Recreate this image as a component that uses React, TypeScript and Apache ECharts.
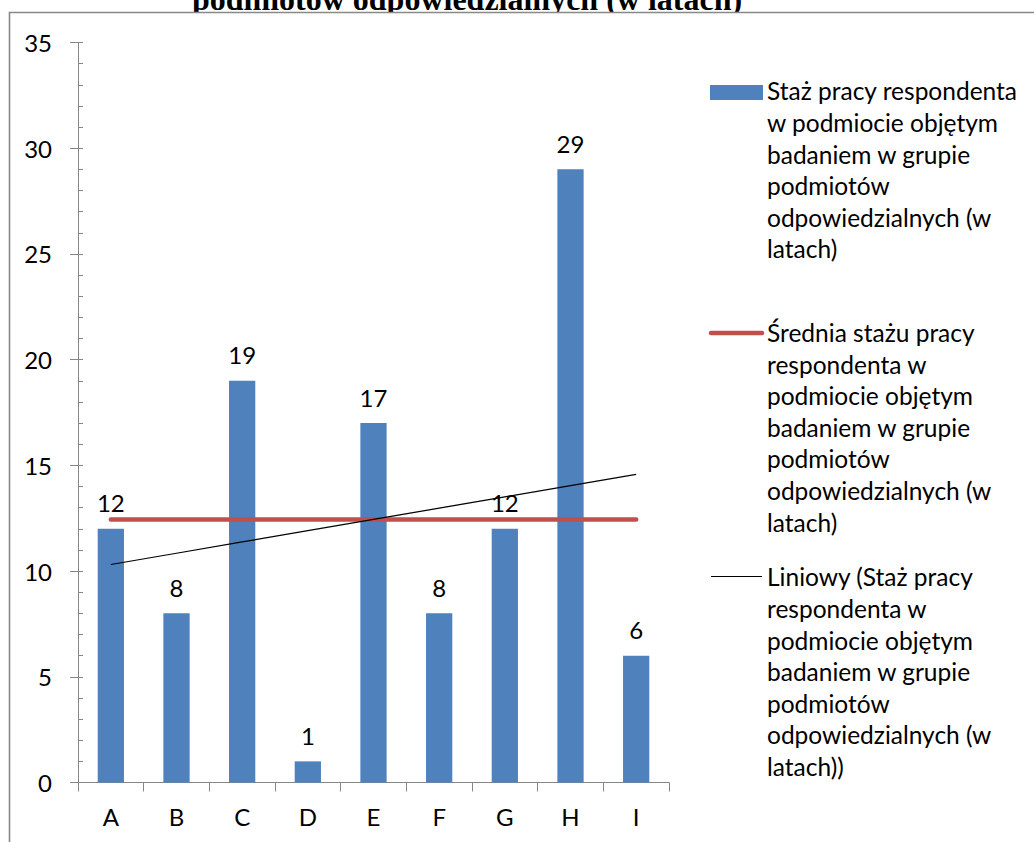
import { useEffect, useRef } from "react";
import * as echarts from "echarts";

// Respondents A–I and their tenure (years) in the surveyed entity
const categories = ["A", "B", "C", "D", "E", "F", "G", "H", "I"];
const tenureYears = [12, 8, 19, 1, 17, 8, 12, 29, 6];

// Value axis range
const yMin = 0;
const yMax = 35;
const yStep = 5;

const titleText = "podmiotów odpowiedzialnych (w latach)";

const legendBarLines = [
  "Staż pracy respondenta",
  "w podmiocie objętym",
  "badaniem w grupie",
  "podmiotów",
  "odpowiedzialnych (w",
  "latach)",
];
const legendMeanLines = [
  "Średnia stażu pracy",
  "respondenta w",
  "podmiocie objętym",
  "badaniem w grupie",
  "podmiotów",
  "odpowiedzialnych (w",
  "latach)",
];
const legendTrendLines = [
  "Liniowy (Staż pracy",
  "respondenta w",
  "podmiocie objętym",
  "badaniem w grupie",
  "podmiotów",
  "odpowiedzialnych (w",
  "latach))",
];

const BAR_COLOR = "#4F81BD";
const MEAN_COLOR = "#C0504D";
const TREND_COLOR = "#000000";
const AXIS_COLOR = "#868686";
const FONT = "Lato, 'Noto Sans', sans-serif";

// Mean of all respondents, drawn as a flat line across the categories
function meanOf(values: number[]): number {
  return values.reduce((s, v) => s + v, 0) / values.length;
}

// Least-squares linear trend over category positions 1..n
function linearTrend(values: number[]): number[] {
  const n = values.length;
  const xs = values.map((_, i) => i + 1);
  const mx = xs.reduce((s, v) => s + v, 0) / n;
  const my = meanOf(values);
  let num = 0;
  let den = 0;
  xs.forEach((x, i) => {
    num += (x - mx) * (values[i] - my);
    den += (x - mx) * (x - mx);
  });
  const slope = num / den;
  const intercept = my - slope * mx;
  return xs.map((x) => intercept + slope * x);
}

export default function App() {
  const ref = useRef<HTMLDivElement>(null);

  useEffect(() => {
    if (!ref.current) return;
    const chart = echarts.init(ref.current, undefined, { renderer: "svg" });

    const mean = meanOf(tenureYears);
    const meanSeries = tenureYears.map(() => mean);
    const trendSeries = linearTrend(tenureYears);

    const lineH = 31.6;
    const textX = 767;
    const legendText = (lines: string[], firstCenterY: number) => ({
      type: "text",
      x: textX,
      y: firstCenterY - lineH / 2,
      z: 20,
      style: {
        text: lines.join("\n"),
        font: `24.5px ${FONT}`,
        fill: "#000",
        lineHeight: lineH,
        verticalAlign: "top",
        align: "left",
      },
    });

    chart.setOption({
      animation: false,
      backgroundColor: "#ffffff",
      grid: { left: 78, top: 42.5, width: 591, height: 740, containLabel: false },
      xAxis: {
        type: "category",
        data: categories,
        boundaryGap: true,
        axisLine: { show: true, lineStyle: { color: AXIS_COLOR, width: 1 } },
        axisTick: { show: true, length: 9, lineStyle: { color: AXIS_COLOR } },
        axisLabel: { margin: 22, fontSize: 24, fontFamily: FONT, color: "#000" },
        splitLine: { show: false },
      },
      yAxis: [
        {
          type: "value",
          min: yMin,
          max: yMax,
          interval: yStep,
          position: "left",
          axisLine: { show: true, lineStyle: { color: AXIS_COLOR, width: 1 } },
          axisTick: { show: true, length: 8, lineStyle: { color: AXIS_COLOR } },
          axisLabel: { margin: 26, fontSize: 24, fontFamily: FONT, color: "#000" },
          splitLine: { show: false },
        },
        {
          type: "value",
          min: yMin,
          max: yMax,
          interval: yStep,
          position: "left",
          offset: 0,
          axisLine: { show: false },
          axisTick: { show: true, inside: true, length: 5, lineStyle: { color: AXIS_COLOR } },
          minorTick: { show: true, splitNumber: 5, length: 5, lineStyle: { color: AXIS_COLOR } },
          axisLabel: { show: false },
          splitLine: { show: false },
        },
      ],
      series: [
        {
          name: "Staż pracy respondenta w podmiocie objętym badaniem w grupie podmiotów odpowiedzialnych (w latach)",
          type: "bar",
          data: tenureYears,
          barWidth: "40%",
          itemStyle: { color: BAR_COLOR },
          label: {
            show: true,
            position: "top",
            distance: 14,
            fontSize: 24,
            fontFamily: FONT,
            color: "#000",
          },
          z: 2,
        },
        {
          name: "Średnia stażu pracy respondenta w podmiocie objętym badaniem w grupie podmiotów odpowiedzialnych (w latach)",
          type: "line",
          data: meanSeries,
          symbol: "none",
          lineStyle: { color: MEAN_COLOR, width: 4.5, cap: "round" },
          z: 3,
        },
        {
          name: "Liniowy (Staż pracy respondenta w podmiocie objętym badaniem w grupie podmiotów odpowiedzialnych (w latach))",
          type: "line",
          data: trendSeries,
          symbol: "none",
          lineStyle: { color: TREND_COLOR, width: 1.2 },
          z: 4,
        },
      ],
      graphic: [
        // title (second line, partly above the page)
        {
          type: "text",
          x: 467,
          y: -1.5,
          z: 10,
          style: {
            text: titleText,
            font: "bold 32px 'Liberation Serif', serif",
            fill: "#000",
            align: "center",
            verticalAlign: "middle",
          },
        },
        // mask under the title inside the chart frame
        {
          type: "rect",
          shape: { x: 10, y: 13, width: 1030, height: 20 },
          z: 11,
          style: { fill: "#ffffff" },
        },
        // chart frame
        {
          type: "rect",
          shape: { x: 9.5, y: 12.5, width: 1100, height: 900 },
          z: 12,
          style: { fill: "none", stroke: "#898989", lineWidth: 1.6 },
        },
        // legend: bars
        {
          type: "rect",
          shape: { x: 710, y: 85, width: 53, height: 15 },
          z: 20,
          style: { fill: BAR_COLOR },
        },
        legendText(legendBarLines, 91),
        // legend: mean line
        {
          type: "line",
          shape: { x1: 711, y1: 333, x2: 762, y2: 333 },
          z: 20,
          style: { stroke: MEAN_COLOR, lineWidth: 4.5, lineCap: "round" },
        },
        legendText(legendMeanLines, 332.5),
        // legend: trend line
        {
          type: "line",
          shape: { x1: 711, y1: 576.5, x2: 762, y2: 576.5 },
          z: 20,
          style: { stroke: TREND_COLOR, lineWidth: 1.2 },
        },
        legendText(legendTrendLines, 577),
      ],
    });

    return () => chart.dispose();
  }, []);

  return (
    <div
      ref={ref}
      style={{ position: "fixed", left: 0, top: 0, width: 1034, height: 842, background: "#fff" }}
    />
  );
}
